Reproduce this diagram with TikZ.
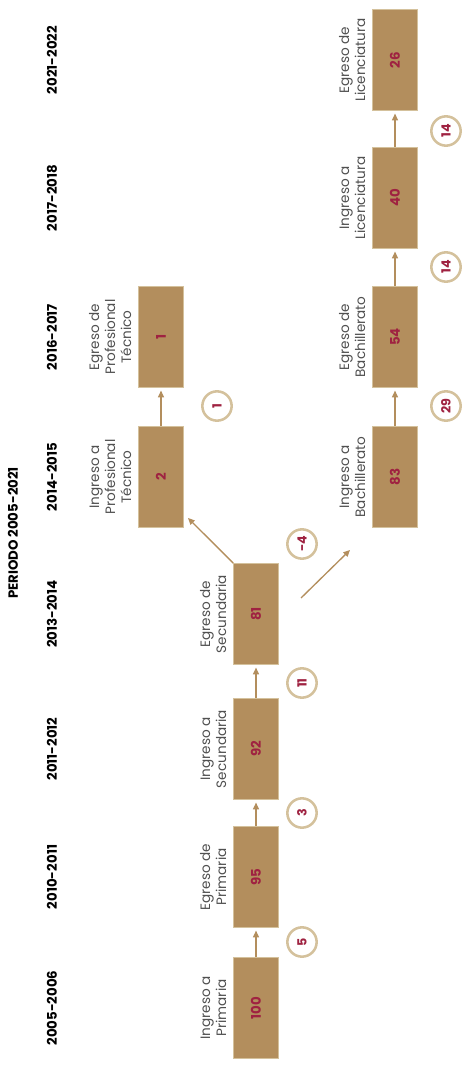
\documentclass[tikz,border=0pt]{standalone}
\usepackage{fontspec}
\setmainfont{Poppins}
\usepackage{graphicx}
\usetikzlibrary{arrows.meta}
\definecolor{oro}{HTML}{B38E5D}
\definecolor{oroclaro}{HTML}{D4C19C}
\definecolor{guinda}{HTML}{9F2241}
\definecolor{gristexto}{HTML}{505050}
\tikzset{etapa box/.style={draw=oroclaro, line width=0.4pt, fill=oro, minimum width=33.75pt, minimum height=76pt, inner sep=0pt, text=guinda, font=\fontsize{10}{10}\selectfont\bfseries}}
\tikzset{dif circ/.style={circle, draw=oroclaro, line width=1.9pt, fill=white, minimum size=22pt, inner sep=0pt, text=guinda, font=\fontsize{9.5}{9.5}\selectfont\bfseries}}
\tikzset{etiqueta/.style={rotate=90, anchor=south, align=center, inner sep=0pt, text=gristexto, font=\fontsize{10.2}{12}\selectfont}}
\tikzset{anio/.style={rotate=90, inner sep=0pt, text=black, font=\fontsize{10}{10}\selectfont\bfseries}}
\tikzset{flecha/.style={draw=oro, line width=1pt, -{Triangle[length=5pt, width=4.5pt]}, shorten >=2pt}}

\begin{document}
\begin{tikzpicture}[x=0.75pt, y=-0.75pt]
	\useasboundingbox (0,0) rectangle (466,1069);
	\node[anio] (periodo) at (13,533) {PERIODO 2005-2021};
	\node[anio] (a0506) at (52,1008) {2005-2006};
	\node[anio] (a1011) at (52,877) {2010-2011};
	\node[anio] (a1112) at (52,749) {2011-2012};
	\node[anio] (a1314) at (52,614) {2013-2014};
	\node[anio] (a1415) at (52,477) {2014-2015};
	\node[anio] (a1617) at (52,337) {2016-2017};
	\node[anio] (a1718) at (52,198) {2017-2018};
	\node[anio] (a2122) at (52,60) {2021-2022};

	\node[etapa box] (ip) at (256,1008) {\rotatebox{90}{100}};
	\node[etapa box] (ep) at (256,877) {\rotatebox{90}{95}};
	\node[etapa box] (is) at (256,749) {\rotatebox{90}{92}};
	\node[etapa box] (es) at (256,614) {\rotatebox{90}{81}};
	\node[etapa box] (ipt) at (161,477) {\rotatebox{90}{2}};
	\node[etapa box] (ept) at (161,337) {\rotatebox{90}{1}};
	\node[etapa box] (ib) at (395,477) {\rotatebox{90}{83}};
	\node[etapa box] (eb) at (395,337) {\rotatebox{90}{54}};
	\node[etapa box] (il) at (395,198) {\rotatebox{90}{40}};
	\node[etapa box] (el) at (395,60) {\rotatebox{90}{26}};

	\node[etiqueta] (tip) at ([xshift=-5pt]ip.west) {Ingreso a\\Primaria};
	\node[etiqueta] (tep) at ([xshift=-5pt]ep.west) {Egreso de\\Primaria};
	\node[etiqueta] (tis) at ([xshift=-5pt]is.west) {Ingreso a\\Secundaria};
	\node[etiqueta] (tes) at ([xshift=-5pt]es.west) {Egreso de\\Secundaria};
	\node[etiqueta] (tipt) at ([xshift=-5pt]ipt.west) {Ingreso a\\Profesional\\Técnico};
	\node[etiqueta] (tept) at ([xshift=-5pt]ept.west) {Egreso de\\Profesional\\Técnico};
	\node[etiqueta] (tib) at ([xshift=-5pt]ib.west) {Ingreso a\\Bachillerato};
	\node[etiqueta] (teb) at ([xshift=-5pt]eb.west) {Egreso de\\Bachillerato};
	\node[etiqueta] (til) at ([xshift=-5pt]il.west) {Ingreso a\\Licenciatura};
	\node[etiqueta] (tel) at ([xshift=-5pt]el.west) {Egreso de\\Licenciatura};

	\coordinate (fpt) at (188,518);
	\coordinate (sb) at (301,598);
	\coordinate (fb) at (350,550);
	\draw[flecha] (ip) -- (ep);
	\draw[flecha] (ep) -- (is);
	\draw[flecha] (is) -- (es);
	\draw[flecha, shorten >=0pt] (es.north west) -- (fpt);
	\draw[flecha, shorten >=0pt] (sb) -- (fb);
	\draw[flecha] (ipt) -- (ept);
	\draw[flecha] (ib) -- (eb);
	\draw[flecha] (eb) -- (il);
	\draw[flecha] (il) -- (el);

	\node[dif circ] (d5) at (302,942) {\rotatebox{90}{5}};
	\node[dif circ] (d3) at (302,813) {\rotatebox{90}{3}};
	\node[dif circ] (d11) at (302,683) {\rotatebox{90}{11}};
	\node[dif circ] (dm4) at (302,544) {\rotatebox{90}{-4}};
	\node[dif circ] (d1) at (217,406) {\rotatebox{90}{1}};
	\node[dif circ] (d29) at (446,406) {\rotatebox{90}{29}};
	\node[dif circ] (d14a) at (446,267) {\rotatebox{90}{14}};
	\node[dif circ] (d14b) at (446,131) {\rotatebox{90}{14}};
\end{tikzpicture}
\end{document}
